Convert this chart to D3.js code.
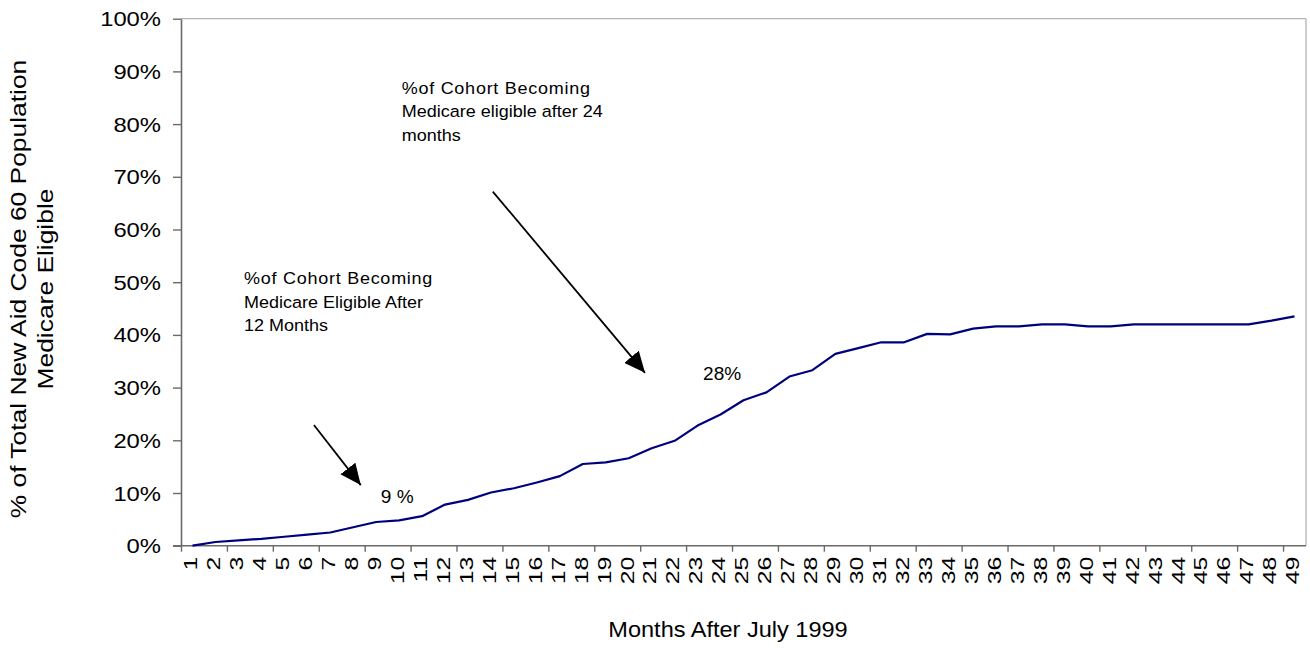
<!DOCTYPE html>
<html>
<head>
<meta charset="utf-8">
<script src="https://cdn.jsdelivr.net/npm/d3@7"></script>
<style>
  html, body { margin: 0; padding: 0; background: #fff; }
  svg { display: block; font-family: Arial, "Liberation Sans", sans-serif; }
</style>
</head>
<body>
<svg id="chart" width="1310" height="648"></svg>
<script>
// ---- data ----
const months = ["1","2","3","4","5","6","7","8","9","10","11","12","13","14","15","16","17","18","19","20",
  "21","22","23","24","25","26","27","28","29","30","31","32","33","34","35","36","37","38","39","40",
  "41","42","43","44","45","46","47","48","49"];
const pctEligible = [0, 0.7, 1.0, 1.3, 1.7, 2.1, 2.5, 3.5, 4.5, 4.8, 5.6, 7.8, 8.7, 10.1, 10.9, 12.0, 13.2,
  15.5, 15.8, 16.6, 18.5, 19.9, 22.8, 24.9, 27.6, 29.1, 32.1, 33.3, 36.4, 37.5, 38.6, 38.6, 40.2, 40.1,
  41.2, 41.6, 41.6, 42.0, 42.0, 41.6, 41.6, 42.0, 42.0, 42.0, 42.0, 42.0, 42.0, 42.7, 43.5];
const yTicks = [0, 10, 20, 30, 40, 50, 60, 70, 80, 90, 100];
const xTickEdges = [0, 2, 4, 6, 8, 10, 12, 14, 16, 18, 20, 22, 24, 26, 28, 30, 32, 34, 36, 38, 40, 42, 44, 46, 48];
const yTitleLines = ["% of Total New Aid Code 60 Population", "Medicare Eligible"];
const xTitle = "Months After July 1999";
// annotations: [month position, percent position]
const note24Lines = ["%of Cohort Becoming", "Medicare eligible after 24", "months"];
const note24Pos = [10.11, 85.8];
const note12Lines = ["%of Cohort Becoming", "Medicare Eligible After", "12 Months"];
const note12Pos = [3.24, 49.6];
const arrow12 = [[6.29, 22.9], [8.33, 11.5]];
const arrow24 = [[14.08, 67.2], [20.71, 32.8]];
const label9 = ["9 %", 9.2, 8.1];
const label28 = ["28%", 23.24, 31.4];

// ---- layout ----
const W = 1310, H = 648;
const plotL = 181, plotR = 1306, plotT = 18.7, plotB = 545.7;
const svg = d3.select("#chart");
svg.append("rect").attr("width", W).attr("height", H).attr("fill", "#fff");

const xBand = d3.scaleBand().domain(months).range([plotL, plotR]).padding(0);
const xEdge = d3.scaleLinear().domain([0, months.length]).range([plotL, plotR]);
const xPos = d3.scaleLinear().domain([0.5, months.length + 0.5]).range([plotL, plotR]);
const y = d3.scaleLinear().domain([0, 100]).range([plotB, plotT]);

// plot border (top & right light)
svg.append("line").attr("x1", plotL).attr("x2", plotR).attr("y1", y(100)).attr("y2", y(100))
  .attr("stroke", "#b4b4b4").attr("stroke-width", 1.3);
svg.append("line").attr("x1", plotR).attr("x2", plotR).attr("y1", y(100)).attr("y2", y(0))
  .attr("stroke", "#b4b4b4").attr("stroke-width", 1.3);

// y axis
const yAxis = svg.append("g").attr("transform", `translate(${plotL},0)`)
  .call(d3.axisLeft(y).tickValues(yTicks).tickSize(8).tickSizeOuter(0).tickFormat(d => d + "%"));
yAxis.select(".domain").attr("stroke", "#6a6a6a").attr("stroke-width", 1.6);
yAxis.selectAll(".tick line").attr("stroke", "#6a6a6a").attr("stroke-width", 1.4);
yAxis.selectAll(".tick text")
  .attr("x", 0).attr("dy", "0.35em")
  .attr("transform", "translate(-20,0) scale(1.19,1)")
  .attr("font-size", 20).attr("fill", "#000").attr("font-family", "Arial, 'Liberation Sans', sans-serif");

// x axis ticks at category edges
const xAxisTicks = svg.append("g").attr("transform", `translate(0,${plotB})`)
  .call(d3.axisBottom(xEdge).tickValues(xTickEdges).tickSize(6).tickSizeOuter(0).tickFormat(""));
xAxisTicks.select(".domain").attr("stroke", "#6a6a6a").attr("stroke-width", 1.6)
  .attr("d", `M${plotL - 8},0H${plotR}`);
xAxisTicks.selectAll(".tick line").attr("stroke", "#6a6a6a").attr("stroke-width", 1.4);

// x labels (rotated)
const xLabels = svg.append("g").attr("transform", `translate(0,${plotB})`)
  .call(d3.axisBottom(xBand).tickSize(0));
xLabels.select(".domain").remove();
xLabels.selectAll(".tick text")
  .attr("x", 0).attr("y", 0).attr("dy", "0.36em")
  .attr("text-anchor", "end")
  .attr("transform", "translate(-1.5,11) rotate(-90) scale(1.42,1)")
  .attr("font-size", 17.5).attr("fill", "#000").attr("font-family", "Arial, 'Liberation Sans', sans-serif");

// data line
const line = d3.line()
  .x((d, i) => xBand(months[i]) + xBand.bandwidth() / 2)
  .y(d => y(d));
svg.append("path").datum(pctEligible)
  .attr("d", line).attr("fill", "none")
  .attr("stroke", "#00007f").attr("stroke-width", 2.2).attr("stroke-linejoin", "round");

// titles
const yTitle = svg.append("g").attr("font-size", 22).attr("fill", "#000");
yTitleLines.forEach((t, i) => {
  yTitle.append("text")
    .attr("transform", `translate(${26 + i * 27},289) rotate(-90) scale(1.2,1)`)
    .attr("text-anchor", "middle").text(t);
});
svg.append("text")
  .attr("transform", `translate(728,637) scale(1.07,1)`)
  .attr("text-anchor", "middle").attr("font-size", 22).attr("fill", "#000").text(xTitle);

// annotations
function note(lines, pos) {
  const g = svg.append("g").attr("font-size", 17).attr("fill", "#000");
  lines.forEach((t, i) => {
    g.append("text")
      .attr("transform", `translate(${xPos(pos[0])},${y(pos[1]) + i * 23.5}) scale(1.06,1)`)
      .attr("letter-spacing", i === 0 ? 0.7 : 0)
      .text(t);
  });
}
note(note24Lines, note24Pos);
note(note12Lines, note12Pos);

const defs = svg.append("defs");
defs.append("marker").attr("id", "head")
  .attr("viewBox", "0 0 21 19").attr("refX", 21).attr("refY", 9.5)
  .attr("markerWidth", 21).attr("markerHeight", 19)
  .attr("markerUnits", "userSpaceOnUse").attr("orient", "auto")
  .append("path").attr("d", "M0,0L21,9.5L0,19Z").attr("fill", "#000");

[arrow12, arrow24].forEach(a => {
  svg.append("line")
    .attr("x1", xPos(a[0][0])).attr("y1", y(a[0][1]))
    .attr("x2", xPos(a[1][0])).attr("y2", y(a[1][1]))
    .attr("stroke", "#000").attr("stroke-width", 1.8)
    .attr("marker-end", "url(#head)");
});

[label9, label28].forEach(l => {
  svg.append("text")
    .attr("transform", `translate(${xPos(l[1])},${y(l[2])}) scale(1.06,1)`)
    .attr("font-size", 18).attr("fill", "#000").text(l[0]);
});
</script>
</body>
</html>
